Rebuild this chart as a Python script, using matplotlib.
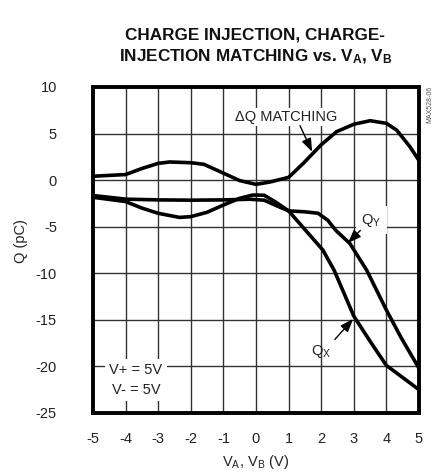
import matplotlib
matplotlib.use("Agg")
import matplotlib.pyplot as plt
from matplotlib import font_manager

# ---------------- data ----------------
dq_x = [-5, -4, -3.5, -3, -2.65, -2, -1.6, -1, -0.5, 0, 0.43, 1, 1.45, 2, 2.47, 3, 3.5, 4, 4.32, 4.72, 5]
dq_y = [0.42, 0.6, 1.25, 1.8, 1.95, 1.87, 1.7, 0.75, -0.05, -0.45, -0.2, 0.3, 1.8, 3.8, 5.2, 6.0, 6.38, 6.1, 5.35, 3.6, 2.1]

qx_x = [-5, -4, -3.5, -3, -2.35, -2, -1.5, -1, -0.5, -0.1, 0.25, 0.6, 1, 1.45, 2.05, 2.4, 3, 3.5, 4, 4.35, 5]
qx_y = [-1.84, -2.3, -3.0, -3.56, -4.0, -3.92, -3.45, -2.67, -1.95, -1.6, -1.62, -2.35, -3.3, -5.1, -7.5, -9.7, -14.6, -17.3, -19.9, -20.8, -22.5]

qy_x = [-5, -4, -3, -2, -1, -0.2, 0.25, 0.6, 1, 1.5, 1.9, 2.2, 2.45, 2.88, 3.4, 4, 4.45, 5]
qy_y = [-1.65, -2.04, -2.12, -2.15, -2.12, -2.05, -2.15, -2.7, -3.3, -3.4, -3.55, -4.3, -5.4, -6.8, -9.7, -13.95, -16.9, -20.2]

x_ticks = [-5, -4, -3, -2, -1, 0, 1, 2, 3, 4, 5]
y_ticks = [10, 5, 0, -5, -10, -15, -20, -25]

# ---------------- fonts ----------------
names = {f.name for f in font_manager.fontManager.ttflist}
narrow = "Liberation Sans Narrow" if "Liberation Sans Narrow" in names else "Liberation Sans"
plt.rcParams["font.family"] = [narrow, "DejaVu Sans"]
plt.rcParams["mathtext.default"] = "regular"

W, H = 441, 475
fig = plt.figure(figsize=(W / 100, H / 100), dpi=100)

L, R, T, B = 93, 419, 87, 413
ax = fig.add_axes([L / W, 1 - B / H, (R - L) / W, (B - T) / H])

ax.set_xlim(-5, 5)
ax.set_ylim(-25, 10)
ax.set_xticks(x_ticks)
ax.set_yticks(y_ticks)
ax.set_xticklabels([str(v) for v in x_ticks])
ax.set_yticklabels([str(v) for v in y_ticks])
ax.tick_params(length=0, labelsize=10.5, colors="#222222", pad=14)
ax.tick_params(axis="y", pad=26)
ax.grid(True, color="#333333", linewidth=1.0)
ax.set_axisbelow(True)
for s in ax.spines.values():
    s.set_linewidth(2.8)
    s.set_color("black")

lw = 2.6
ax.plot(dq_x, dq_y, color="black", lw=lw, solid_joinstyle="round", zorder=3)
ax.plot(qx_x, qx_y, color="black", lw=lw, solid_joinstyle="round", zorder=3)
ax.plot(qy_x, qy_y, color="black", lw=lw, solid_joinstyle="round", zorder=3)

box = dict(facecolor="white", edgecolor="none", pad=1.5)
arr = dict(arrowstyle="-|>,head_length=0.8,head_width=0.3", color="black", lw=1.0, shrinkA=0, shrinkB=0)

ax.text(0.92, 6.78, "ΔQ MATCHING", ha="center", va="center", fontsize=10.5, color="#222222", bbox=box, zorder=5)
ax.annotate("", xy=(1.72, 3.05), xytext=(1.35, 5.85), arrowprops=arr, zorder=6)

ax.text(3.53, -4.28, "Q$_\\mathregular{Y}$", ha="center", va="center", fontsize=10.5, color="#222222",
        bbox=dict(facecolor="white", edgecolor="none", pad=4), zorder=5)
ax.annotate("", xy=(2.82, -6.75), xytext=(3.2, -5.4), arrowprops=arr, zorder=6)

ax.text(1.99, -18.45, "Q$_\\mathregular{X}$", ha="center", va="center", fontsize=10.5, color="#222222", zorder=5)
ax.annotate("", xy=(2.98, -14.9), xytext=(2.42, -17.1), arrowprops=arr, zorder=6)

ax.text(-3.68, -21.45, "V+ = 5V\nV- = 5V", ha="center", va="center", fontsize=10.5, color="#222222",
        linespacing=1.55, bbox=dict(facecolor="white", edgecolor="none", pad=3), zorder=5)

# titles and labels
fig.text(255 / W, 1 - 35 / H, "CHARGE INJECTION, CHARGE-", ha="center", va="center",
         fontsize=12.3, fontweight="bold", color="#111111")
fig.text(256 / W, 1 - 57 / H, "INJECTION MATCHING vs. V$_\\mathregular{A}$, V$_\\mathregular{B}$", ha="center", va="center",
         fontsize=12.3, fontweight="bold", color="#111111")
fig.text(256 / W, 1 - 462 / H, "V$_\\mathregular{A}$, V$_\\mathregular{B}$ (V)", ha="center", va="center",
         fontsize=10.5, color="#222222")
fig.text(21 / W, 1 - 241 / H, "Q (pC)", ha="center", va="center", rotation=90,
         fontsize=10.5, color="#222222")
fig.text(430 / W, 1 - 86 / H, "MAX528-06", ha="center", va="top", rotation=90,
         fontsize=5, color="#555555")

fig.savefig("out.png", dpi=100)
